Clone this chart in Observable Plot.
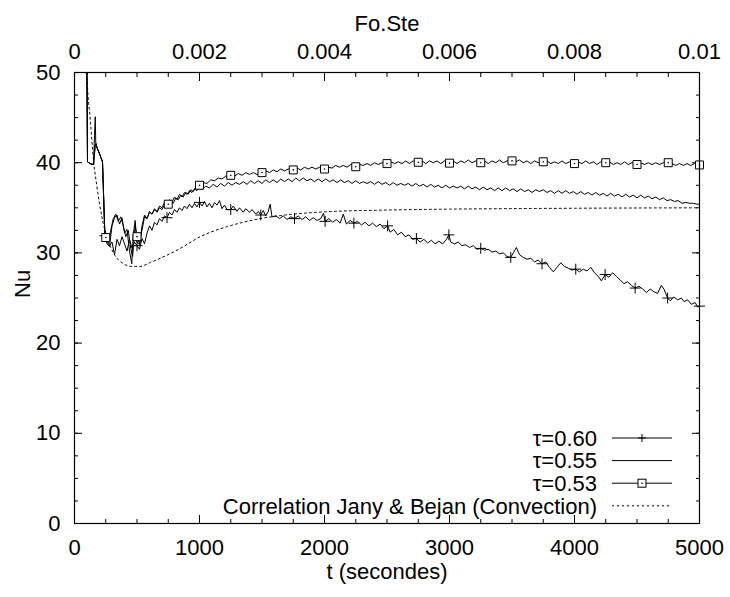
<!DOCTYPE html>
<html>
<head>
<meta charset="utf-8">
<script src="https://cdn.jsdelivr.net/npm/d3@7"></script>
<script src="https://cdn.jsdelivr.net/npm/@observablehq/plot@0.6"></script>
<style>
  html, body { margin: 0; padding: 0; background: #fff; }
  #chart { position: relative; width: 730px; height: 597px; }
</style>
</head>
<body>
<div id="chart"></div>
<script>
// ---------- data (t in seconds, Nu) ----------
const tau060 = [[95,60],[104,40.1],[125,39.9],[152,39.8],[160,43.0],[166,45.1],[170,42.2],[180,41.6],[200,41.0],[224,40.1],[243,31.9],[260,31.3],[280,30.8],[300,31.2],[320,29.8],[340,31.5],[360,30.8],[380,31.8],[400,31.0],[420,30.2],[440,31.5],[460,30.5],[480,31.2],[500,30.8],[520,30.4],[540,31.6],[560,31.0],[580,32.2],[600,33.0],[620,32.5],[640,33.4],[660,33.1],[680,33.8],[700,33.5],[720,34.1],[740,33.9],[760,34.5],[780,34.2],[800,34.8],[820,34.5],[840,35.0],[860,34.7],[880,35.2],[900,34.9],[920,35.4],[940,35.0],[960,35.5],[980,35.1],[1000,35.6],[1020,35.2],[1040,35.7],[1060,35.1],[1080,35.5],[1100,35.0],[1120,35.6],[1140,35.3],[1160,35.8],[1180,34.9],[1200,35.3],[1220,34.8],[1250,34.8],[1270,35.2],[1300,34.6],[1320,35.0],[1350,34.5],[1370,34.9],[1400,34.5],[1420,34.8],[1450,34.3],[1470,34.6],[1490,34.2],[1510,34.7],[1530,34.1],[1550,34.6],[1565,35.4],[1580,34.0],[1610,34.1],[1640,33.8],[1670,34.1],[1700,33.7],[1730,34.0],[1760,33.8],[1790,34.1],[1820,33.7],[1850,34.0],[1880,33.6],[1910,33.9],[1940,33.6],[1970,33.8],[1992,34.4],[2005,33.5],[2035,33.8],[2065,33.4],[2095,33.7],[2125,33.3],[2150,34.3],[2175,33.2],[2205,33.6],[2235,33.3],[2265,33.5],[2295,33.1],[2325,33.4],[2355,33.0],[2385,33.3],[2415,32.9],[2445,33.2],[2475,32.7],[2505,33.0],[2525,32.3],[2555,32.6],[2585,32.0],[2615,32.3],[2645,31.8],[2675,32.0],[2705,31.5],[2735,31.6],[2765,31.2],[2795,31.5],[2825,31.1],[2855,31.4],[2885,31.0],[2915,31.3],[2945,31.0],[2975,31.5],[2995,32.0],[3010,31.2],[3040,31.0],[3070,31.2],[3100,30.8],[3130,30.9],[3160,30.6],[3190,30.8],[3220,30.4],[3250,30.5],[3280,30.3],[3310,30.4],[3340,30.1],[3370,30.2],[3400,29.9],[3430,30.0],[3460,29.6],[3490,29.5],[3510,30.0],[3535,30.6],[3560,29.8],[3590,29.5],[3620,29.3],[3650,29.4],[3680,29.0],[3710,29.2],[3740,28.8],[3770,29.0],[3800,28.4],[3830,27.9],[3860,28.4],[3890,28.9],[3920,28.5],[3950,28.3],[3980,28.1],[4010,28.2],[4040,27.9],[4070,28.2],[4100,28.0],[4130,28.4],[4160,27.8],[4190,27.4],[4215,26.9],[4245,27.6],[4275,27.3],[4305,27.8],[4335,27.4],[4365,27.0],[4395,26.6],[4425,26.8],[4455,26.4],[4485,26.1],[4515,26.3],[4545,26.0],[4575,25.6],[4605,26.0],[4635,25.7],[4665,25.5],[4695,26.4],[4715,26.0],[4745,25.0],[4765,24.7],[4795,25.1],[4825,24.8],[4855,25.0],[4875,24.6],[4905,24.8],[4935,24.3],[4965,24.5],[4985,24.0],[5000,24.1]];

const tau055 = [[95,60],[104,40.1],[125,39.9],[152,39.8],[166,42.0],[172,42.1],[180,41.7],[200,41.0],[224,40.1],[243,31.9],[260,31.0],[280,30.7],[300,33.0],[320,33.9],[340,34.2],[360,33.2],[380,33.9],[400,32.2],[420,32.6],[440,30.2],[458,28.8],[470,32.0],[485,33.6],[500,31.2],[520,30.9],[540,33.0],[560,34.2],[580,33.8],[600,34.6],[620,34.3],[640,34.9],[660,34.6],[680,35.2],[700,35.0],[720,35.6],[740,35.2],[760,35.9],[780,35.6],[800,36.2],[820,35.9],[840,36.5],[860,36.2],[880,36.7],[900,36.5],[920,36.9],[940,36.7],[960,37.1],[980,36.9],[1000,37.3],[1020,37.0],[1050,37.4],[1080,37.2],[1110,37.6],[1140,37.3],[1170,37.7],[1200,37.4],[1230,37.8],[1260,37.5],[1290,37.8],[1320,37.6],[1350,37.9],[1380,37.6],[1410,38.0],[1440,37.7],[1470,38.0],[1500,37.7],[1530,38.1],[1560,37.8],[1590,38.1],[1620,37.8],[1650,38.2],[1680,37.9],[1710,38.2],[1740,37.9],[1770,38.3],[1800,38.0],[1830,38.3],[1860,38.0],[1890,38.2],[1920,37.9],[1950,38.2],[1980,37.9],[2010,38.2],[2040,37.9],[2070,38.1],[2100,37.8],[2130,38.1],[2160,37.8],[2190,38.0],[2220,37.7],[2250,38.0],[2280,37.7],[2310,37.9],[2340,37.7],[2370,37.9],[2400,37.6],[2430,37.9],[2460,37.6],[2490,37.8],[2520,37.5],[2550,37.8],[2580,37.5],[2610,37.7],[2640,37.5],[2670,37.7],[2700,37.4],[2730,37.7],[2760,37.4],[2790,37.6],[2820,37.3],[2850,37.6],[2880,37.3],[2910,37.5],[2940,37.2],[2970,37.5],[3000,37.2],[3030,37.4],[3060,37.2],[3090,37.4],[3120,37.1],[3150,37.4],[3180,37.1],[3210,37.3],[3240,37.0],[3270,37.3],[3300,37.0],[3330,37.2],[3360,36.9],[3390,37.2],[3420,36.9],[3450,37.2],[3480,36.9],[3510,37.1],[3540,36.8],[3570,37.1],[3600,36.8],[3630,37.0],[3660,36.7],[3690,37.0],[3720,36.8],[3750,37.0],[3780,36.7],[3810,36.9],[3840,36.6],[3870,36.9],[3900,36.6],[3930,36.9],[3960,36.6],[3990,36.8],[4020,36.5],[4050,36.8],[4080,36.5],[4110,36.7],[4140,36.4],[4170,36.7],[4200,36.4],[4230,36.6],[4260,36.3],[4290,36.6],[4320,36.3],[4350,36.5],[4380,36.2],[4410,36.5],[4440,36.2],[4470,36.4],[4500,36.1],[4530,36.4],[4560,36.1],[4590,36.3],[4620,36.0],[4650,36.2],[4680,35.9],[4710,36.1],[4740,35.8],[4770,35.9],[4800,35.7],[4830,35.8],[4860,35.5],[4890,35.6],[4920,35.5],[4950,35.5],[4980,35.4],[5000,35.4]];

const tau053 = [[95,60],[104,40.1],[125,39.9],[152,39.8],[166,42.0],[172,42.1],[180,41.7],[200,41.0],[224,40.1],[243,31.9],[250,31.7],[270,31.2],[290,32.5],[310,33.8],[330,34.3],[350,33.5],[370,34.0],[390,33.0],[410,31.8],[430,32.5],[450,30.5],[465,29.6],[485,33.0],[500,31.8],[520,31.0],[540,32.5],[560,34.0],[580,33.8],[600,34.5],[620,34.3],[640,34.8],[660,34.5],[680,35.0],[700,34.8],[720,35.3],[750,35.4],[770,35.8],[790,35.5],[810,36.1],[830,35.9],[850,36.4],[870,36.2],[890,36.7],[910,36.5],[930,37.0],[950,36.8],[970,37.3],[1000,37.5],[1030,37.8],[1060,37.7],[1090,38.1],[1120,38.0],[1150,38.3],[1180,38.2],[1210,38.5],[1250,38.6],[1280,38.5],[1310,38.8],[1340,38.6],[1370,38.9],[1400,38.7],[1430,38.9],[1460,38.7],[1500,38.9],[1530,39.1],[1560,38.9],[1590,39.2],[1620,39.0],[1650,39.3],[1680,39.1],[1710,39.3],[1750,39.2],[1780,39.4],[1810,39.2],[1840,39.5],[1870,39.3],[1900,39.5],[1930,39.3],[1960,39.5],[2000,39.3],[2030,39.5],[2060,39.4],[2090,39.7],[2120,39.5],[2150,39.7],[2180,39.5],[2210,39.8],[2250,39.55],[2280,39.8],[2310,39.7],[2340,39.9],[2370,39.7],[2400,40.0],[2430,39.8],[2460,40.0],[2500,39.9],[2530,40.1],[2560,39.9],[2590,40.1],[2620,39.9],[2650,40.2],[2680,39.9],[2710,40.2],[2750,40.05],[2780,40.2],[2810,39.9],[2840,40.2],[2870,40.0],[2900,40.2],[2930,39.9],[2960,40.2],[3000,39.95],[3030,40.2],[3060,39.9],[3090,40.2],[3120,40.0],[3150,40.3],[3180,40.0],[3210,40.2],[3250,40.0],[3280,40.2],[3310,39.9],[3340,40.2],[3370,40.0],[3400,40.3],[3430,40.0],[3460,40.2],[3500,40.2],[3530,40.1],[3560,40.3],[3590,40.0],[3620,40.2],[3650,39.9],[3680,40.2],[3710,40.0],[3750,40.1],[3780,40.2],[3810,39.9],[3840,40.1],[3870,39.9],[3900,40.2],[3930,39.9],[3960,40.1],[4000,39.9],[4030,40.1],[4060,39.9],[4090,40.2],[4120,39.9],[4150,40.1],[4180,39.8],[4210,40.1],[4250,40.0],[4280,40.1],[4310,39.8],[4340,40.0],[4370,39.8],[4400,40.1],[4430,39.8],[4460,40.0],[4500,39.8],[4530,40.0],[4560,39.8],[4590,40.0],[4620,39.8],[4650,40.0],[4680,39.8],[4710,40.0],[4750,40.0],[4780,39.9],[4810,39.7],[4840,39.9],[4870,39.7],[4900,39.9],[4930,39.7],[4960,39.9],[5000,39.75]];

const correlation = [[95,55],[99,50],[126,44.8],[152,40.3],[179,37.4],[219,34.0],[259,31.8],[312,30.0],[392,28.8],[459,28.5],[526,28.5],[600,28.9],[686,29.4],[846,30.5],[1006,31.8],[1219,32.9],[1486,33.8],[1752,34.3],[2000,34.55],[2500,34.75],[3000,34.85],[4000,34.95],[5000,35.0]];

// sample times carrying a point symbol
const markerTimes = [250,500,750,1000,1250,1500,1750,2000,2250,2500,2750,3000,3250,3500,3750,4000,4250,4500,4750,5000];

// axes
const xTicks = [0, 1000, 2000, 3000, 4000, 5000];
const xTickLabels = ["0", "1000", "2000", "3000", "4000", "5000"];
const topTickLabels = ["0", "0.002", "0.004", "0.006", "0.008", "0.01"];
const yTicks = [0, 10, 20, 30, 40, 50];
const yTickLabels = ["0", "10", "20", "30", "40", "50"];
const xMinor = d3.range(0, 5001, 250);
const yMinor = d3.range(0, 50.01, 2.5);

const seriesNames = ["τ=0.60", "τ=0.55", "τ=0.53", "Correlation Jany & Bejan (Convection)"];
const xTitle = "t (secondes)";
const yTitle = "Nu";
const topTitle = "Fo.Ste";

// ---------- build ----------
const rows = arr => arr.map(([t, nu]) => ({t, nu}));
const markersOf = arr => markerTimes.map(mt => {
  let best = arr[0];
  for (const p of arr) if (Math.abs(p[0] - mt) < Math.abs(best[0] - mt)) best = p;
  return {t: best[0], nu: best[1]};
});

const FONT = "'Liberation Sans', Arial, Helvetica, sans-serif";
const FS = 22;

const plot = Plot.plot({
  width: 730,
  height: 597,
  marginLeft: 74,
  marginRight: 31,
  marginTop: 72,
  marginBottom: 74,
  style: {fontFamily: FONT, fontSize: FS + "px", color: "#000", background: "#fff", overflow: "visible"},
  x: {domain: [0, 5000]},
  y: {domain: [0, 50]},
  marks: [
    // tick labels
    Plot.axisX(xTicks, {anchor: "bottom", tickSize: 0, tickPadding: 16, fontSize: FS, label: null,
      tickFormat: d => xTickLabels[xTicks.indexOf(d)]}),
    Plot.axisX(xTicks, {anchor: "top", tickSize: 0, tickPadding: 14, fontSize: FS, label: null,
      tickFormat: d => topTickLabels[xTicks.indexOf(d)]}),
    Plot.axisY(yTicks, {anchor: "left", tickSize: 0, tickPadding: 14, fontSize: FS, label: null,
      tickFormat: d => yTickLabels[yTicks.indexOf(d)]}),
    // inward major ticks
    Plot.axisX(xTicks, {anchor: "bottom", tickSize: -8, fill: "none", label: null}),
    Plot.axisX(xTicks, {anchor: "top", tickSize: -8, fill: "none", label: null}),
    Plot.axisY(yTicks, {anchor: "left", tickSize: -8, fill: "none", label: null}),
    Plot.axisY(yTicks, {anchor: "right", tickSize: -8, fill: "none", label: null}),
    // inward minor ticks
    Plot.axisX(xMinor, {anchor: "bottom", tickSize: -4, fill: "none", label: null}),
    Plot.axisX(xMinor, {anchor: "top", tickSize: -4, fill: "none", label: null}),
    Plot.axisY(yMinor, {anchor: "left", tickSize: -4, fill: "none", label: null}),
    Plot.axisY(yMinor, {anchor: "right", tickSize: -4, fill: "none", label: null}),
    // axis titles
    Plot.text([xTitle], {frameAnchor: "bottom", dy: 55, fontSize: FS, fill: "#000"}),
    Plot.text([topTitle], {frameAnchor: "top", dy: -57, fontSize: FS, fill: "#000"}),
    Plot.text([yTitle], {frameAnchor: "left", dx: -52, rotate: -90, fontSize: FS, fill: "#000"}),
    // data
    Plot.line(rows(correlation), {x: "t", y: "nu", stroke: "#000", strokeWidth: 1, strokeDasharray: "2,3", curve: "monotone-x", clip: true}),
    Plot.line(rows(tau055), {x: "t", y: "nu", stroke: "#000", strokeWidth: 1, clip: true}),
    Plot.line(rows(tau053), {x: "t", y: "nu", stroke: "#000", strokeWidth: 1, clip: true}),
    Plot.line(rows(tau060), {x: "t", y: "nu", stroke: "#000", strokeWidth: 1, clip: true}),
    Plot.dot(markersOf(tau060), {x: "t", y: "nu", symbol: "plus", r: 3.6, stroke: "#000", strokeWidth: 1}),
    Plot.dot(markersOf(tau053), {x: "t", y: "nu", symbol: "square", r: 4.5, stroke: "#000", fill: "#fff", strokeWidth: 1}),
    Plot.dot(markersOf(tau053), {x: "t", y: "nu", r: 0.8, fill: "#000", stroke: null}),
    Plot.frame({stroke: "#000", strokeWidth: 1.2})
  ]
});

document.getElementById("chart").appendChild(plot);

// ---------- legend (inside plot, bottom right) ----------
const svg = d3.select(plot);
const lg = svg.append("g").attr("font-family", FONT).attr("font-size", FS);
const legendRows = [
  {name: seriesNames[0], dash: null, mark: "plus"},
  {name: seriesNames[1], dash: null, mark: null},
  {name: seriesNames[2], dash: null, mark: "square"},
  {name: seriesNames[3], dash: "2,3", mark: null}
];
const lx = 597, ly0 = 438, lstep = 22.6, s0 = 612, s1 = 672, sm = 642;
legendRows.forEach((r, i) => {
  const y = ly0 + i * lstep;
  lg.append("text").attr("x", lx).attr("y", y).attr("dy", "0.35em")
    .attr("text-anchor", "end").attr("fill", "#000").text(r.name);
  lg.append("line").attr("x1", s0).attr("x2", s1).attr("y1", y).attr("y2", y)
    .attr("stroke", "#000").attr("stroke-width", 1)
    .attr("stroke-dasharray", r.dash);
  if (r.mark === "plus") {
    lg.append("path").attr("d", `M${sm - 4},${y}H${sm + 4}M${sm},${y - 4}V${y + 4}`)
      .attr("stroke", "#000").attr("fill", "none");
  } else if (r.mark === "square") {
    lg.append("rect").attr("x", sm - 4).attr("y", y - 4).attr("width", 8).attr("height", 8)
      .attr("stroke", "#000").attr("fill", "#fff");
    lg.append("circle").attr("cx", sm).attr("cy", y).attr("r", 0.8).attr("fill", "#000");
  }
});
</script>
</body>
</html>
